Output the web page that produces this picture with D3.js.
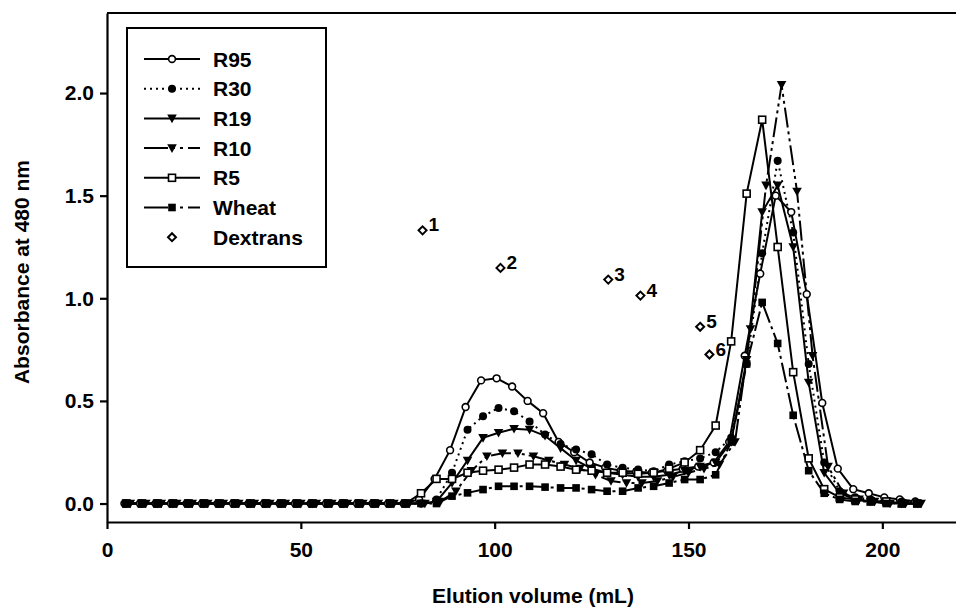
<!DOCTYPE html>
<html lang="en">

<head>
  <meta charset="utf-8">
  <title>Elution profiles</title>
  <script src="https://cdn.jsdelivr.net/npm/d3@7"></script>
  <style>
    body { margin: 0; background: #fff; }
    svg { display: block; }
    text { font-family: "Liberation Sans", Arial, sans-serif; font-weight: bold; fill: #000; }
    .axis path, .axis line { stroke: #000; stroke-width: 2.2; }
    .axis text { font-size: 21px; }
  </style>
</head>

<body>
  <svg id="chart" width="956" height="612"></svg>

  <script>
    // elution volume (mL), sampled every 4 mL
    var volumes = [4, 8, 12, 16, 20, 24, 28, 32, 36, 40, 44, 48, 52, 56, 60, 64, 68, 72, 76,
      80, 84, 88, 92, 96, 100, 104, 108, 112, 116, 120, 124, 128, 132, 136, 140, 144, 148,
      152, 156, 160, 164, 168, 172, 176, 180, 184, 188, 192, 196, 200, 204, 208];

    var baseline = [0, 0, 0, 0, 0, 0, 0, 0, 0, 0, 0, 0, 0, 0, 0, 0, 0, 0, 0];

    // absorbance at 480 nm (from 80 mL on)
    var r95 = baseline.concat([0.02, 0.12, 0.26, 0.47, 0.60, 0.61, 0.57, 0.50, 0.44, 0.30, 0.25,
      0.20, 0.175, 0.16, 0.155, 0.15, 0.16, 0.17, 0.18, 0.20, 0.30, 0.72, 1.12, 1.50, 1.42,
      1.02, 0.49, 0.17, 0.07, 0.05, 0.03, 0.02, 0.01]);
    var r30 = baseline.concat([0, 0.02, 0.15, 0.36, 0.425, 0.466, 0.45, 0.40, 0.336, 0.29, 0.263,
      0.24, 0.19, 0.174, 0.166, 0.157, 0.19, 0.206, 0.22, 0.25, 0.32, 0.68, 1.22, 1.67, 1.32,
      0.68, 0.20, 0.06, 0.03, 0.02, 0.01, 0.01, 0]);
    var r19 = baseline.concat([0, 0.01, 0.10, 0.21, 0.32, 0.345, 0.364, 0.36, 0.33, 0.27, 0.21,
      0.17, 0.15, 0.14, 0.13, 0.13, 0.14, 0.16, 0.18, 0.20, 0.30, 0.70, 1.42, 1.55, 1.25,
      0.59, 0.15, 0.05, 0.02, 0.01, 0.01, 0, 0]);
    var r10 = baseline.concat([0, 0.01, 0.06, 0.16, 0.23, 0.245, 0.245, 0.23, 0.21, 0.19, 0.17,
      0.14, 0.11, 0.10, 0.10, 0.11, 0.13, 0.15, 0.17, 0.19, 0.30, 0.85, 1.55, 2.04, 1.52,
      0.72, 0.18, 0.05, 0.02, 0.01, 0, 0, 0]);
    var r5 = baseline.concat([0.05, 0.12, 0.12, 0.15, 0.16, 0.165, 0.175, 0.19, 0.19, 0.18, 0.165,
      0.16, 0.15, 0.15, 0.145, 0.15, 0.17, 0.20, 0.26, 0.38, 0.79, 1.51, 1.87, 1.25, 0.64,
      0.22, 0.07, 0.03, 0.02, 0.01, 0.01, 0, 0]);
    var wheat = baseline.concat([0, 0, 0.036, 0.052, 0.068, 0.084, 0.084, 0.084, 0.08, 0.076, 0.076,
      0.068, 0.06, 0.06, 0.076, 0.084, 0.10, 0.117, 0.117, 0.14, 0.30, 0.68, 0.98, 0.78, 0.43,
      0.16, 0.05, 0.02, 0.01, 0.01, 0, 0, 0]);

    // sampling offset of each run along the volume axis (mL)
    var offsets = { R95: 0.5, R30: 1, R19: 1, R10: 2, R5: 1, Wheat: 1 };

    // dextran standards
    var dextranLabels = ["1", "2", "3", "4", "5", "6"];
    var dextranVolumes = [81.4, 101.5, 129.3, 137.6, 153.0, 155.4];
    var dextranAbs = [1.331, 1.148, 1.091, 1.013, 0.861, 0.726];

    var xTicks = [0, 50, 100, 150, 200];
    var yTicks = [0, 0.5, 1.0, 1.5, 2.0];

    var series = [
      { name: "R95", values: r95, dash: null, marker: "circleOpen" },
      { name: "R30", values: r30, dash: "2,4", marker: "circle" },
      { name: "R19", values: r19, dash: null, marker: "triangle" },
      { name: "R10", values: r10, dash: "20,4,3,4,3,4", marker: "triangle" },
      { name: "R5", values: r5, dash: null, marker: "squareOpen" },
      { name: "Wheat", values: wheat, dash: "20,4,3,4", marker: "square" }
    ];

    var svg = d3.select("#chart");

    var x = d3.scaleLinear().domain([0, 219]).range([107, 956]);
    var y = d3.scaleLinear().domain([-0.09, 2.39]).range([522, 13]);

    // axes + frame
    svg.append("g")
      .attr("class", "axis")
      .attr("transform", "translate(0,522)")
      .call(d3.axisBottom(x).tickValues(xTicks).tickFormat(d3.format("d"))
        .tickSize(7).tickSizeOuter(0).tickPadding(13));

    svg.append("g")
      .attr("class", "axis")
      .attr("transform", "translate(107,0)")
      .call(d3.axisLeft(y).tickValues(yTicks).tickFormat(d3.format(".1f"))
        .tickSize(7).tickSizeOuter(0).tickPadding(6));

    svg.append("line")
      .attr("x1", 107).attr("x2", 956).attr("y1", 13).attr("y2", 13)
      .attr("stroke", "#000").attr("stroke-width", 2.2);

    svg.selectAll(".axis text").attr("font-size", 21);

    svg.append("text")
      .attr("x", 533).attr("y", 603)
      .attr("text-anchor", "middle")
      .attr("font-size", 21)
      .text("Elution volume (mL)");

    svg.append("text")
      .attr("transform", "translate(29,272) rotate(-90)")
      .attr("text-anchor", "middle")
      .attr("font-size", 21)
      .text("Absorbance at 480 nm");

    // marker drawing
    function drawMarker(g, type, cx, cy) {
      if (type === "circleOpen") {
        g.append("circle").attr("cx", cx).attr("cy", cy).attr("r", 3.4)
          .attr("fill", "#fff").attr("stroke", "#000").attr("stroke-width", 1.6);
      } else if (type === "circle") {
        g.append("circle").attr("cx", cx).attr("cy", cy).attr("r", 4).attr("fill", "#000");
      } else if (type === "triangle") {
        g.append("path")
          .attr("d", "M" + (cx - 4.8) + "," + (cy - 3.8) + "L" + (cx + 4.8) + "," + (cy - 3.8) +
            "L" + cx + "," + (cy + 4.8) + "Z")
          .attr("fill", "#000");
      } else if (type === "squareOpen") {
        g.append("rect").attr("x", cx - 3.5).attr("y", cy - 3.5).attr("width", 7).attr("height", 7)
          .attr("fill", "#fff").attr("stroke", "#000").attr("stroke-width", 1.6);
      } else if (type === "square") {
        g.append("rect").attr("x", cx - 3.8).attr("y", cy - 3.8).attr("width", 7.6).attr("height", 7.6)
          .attr("fill", "#000");
      } else if (type === "diamondOpen") {
        g.append("path")
          .attr("d", "M" + cx + "," + (cy - 4) + "L" + (cx + 4) + "," + cy + "L" + cx + "," + (cy + 4) +
            "L" + (cx - 4) + "," + cy + "Z")
          .attr("fill", "#fff").attr("stroke", "#000").attr("stroke-width", 2);
      }
    }

    var line = d3.line()
      .x(function (d) { return x(d[0]); })
      .y(function (d) { return y(d[1]); });

    var plot = svg.append("g");

    series.forEach(function (s) {
      var pts = s.values.map(function (v, i) { return [volumes[i] + offsets[s.name], v]; });
      plot.append("path")
        .datum(pts)
        .attr("d", line)
        .attr("fill", "none")
        .attr("stroke", "#000")
        .attr("stroke-width", 2)
        .attr("stroke-dasharray", s.dash);
      s.pts = pts;
    });

    series.forEach(function (s) {
      var g = plot.append("g");
      s.pts.forEach(function (p) { drawMarker(g, s.marker, x(p[0]), y(p[1])); });
    });

    // dextran standards with their numbers
    var dg = plot.append("g");
    dextranVolumes.forEach(function (v, i) {
      var cx = x(v), cy = y(dextranAbs[i]);
      drawMarker(dg, "diamondOpen", cx, cy);
      dg.append("text")
        .attr("x", cx + 6).attr("y", cy + 1)
        .attr("font-size", 19)
        .text(dextranLabels[i]);
    });

    // legend
    var legend = svg.append("g");
    legend.append("rect")
      .attr("x", 127).attr("y", 28).attr("width", 199).attr("height", 239)
      .attr("fill", "#fff").attr("stroke", "#000").attr("stroke-width", 2);

    var legendItems = series.concat([{ name: "Dextrans", marker: "diamondOpen", noLine: true }]);
    legendItems.forEach(function (s, i) {
      var ly = 59 + i * 29.7;
      if (!s.noLine) {
        legend.append("line")
          .attr("x1", 144).attr("x2", 200).attr("y1", ly).attr("y2", ly)
          .attr("stroke", "#000").attr("stroke-width", 2)
          .attr("stroke-dasharray", s.dash ? (s.name === "R30" ? "2,4" : "24,4,3,5,3,5") : null);
      }
      drawMarker(legend, s.marker, 172, ly);
      legend.append("text")
        .attr("x", 213).attr("y", ly).attr("dy", "0.36em")
        .attr("font-size", 21)
        .text(s.name);
    });
  </script>
</body>

</html>
